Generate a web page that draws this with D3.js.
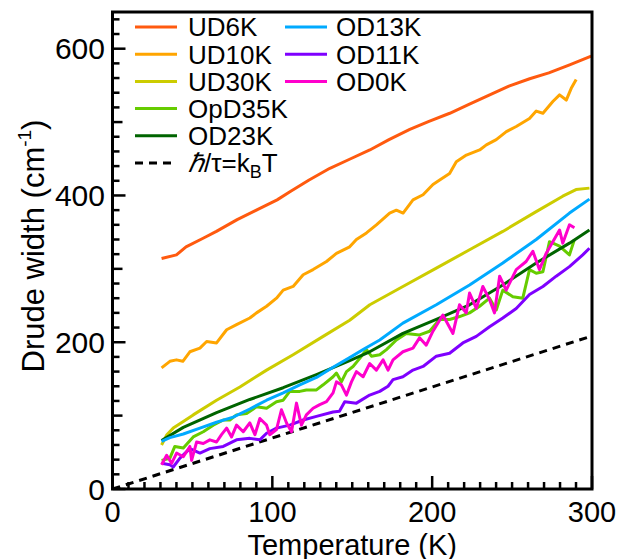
<!DOCTYPE html>
<html><head><meta charset="utf-8">
<script src="https://cdn.jsdelivr.net/npm/d3@7"></script>
<style>body{margin:0;background:#fff}svg{display:block}text{font-family:"Liberation Sans",Arial,Helvetica,sans-serif;fill:#000}</style>
</head><body>
<svg id="c" width="623" height="559"></svg>
<script>
const seriesNames = ["UD6K","UD10K","UD30K","OpD35K","OD23K","OD13K","OD11K","OD0K"];
const seriesColors = ["#ff5a0f","#ffa500","#cccc00","#66cc00","#006400","#00aaff","#7f00ff","#ff00cc"];
const xTickLabels = [0,100,200,300];
const yTickLabels = [0,200,400,600];

const UD6K = [[30.7,314],[40,319],[46,330],[57,342],[65,351],[78,367],[90,380],[103,394],[111,405],[123,421],[136,437],[148,449],[161,462],[173,476],[186,490],[198,501],[211,512],[223,524],[236,537],[248,549],[261,559],[273,567],[286,578],[299.5,590]];
const UD10K = [[30.7,165],[35.9,174],[40,176],[44,174],[48.4,187],[54.7,192],[58.9,201],[65.1,199],[71.4,217],[77.6,224],[85.9,233],[90.1,240],[96.4,249],[102.6,260],[106.8,271],[113,276],[119.3,292],[125.5,299],[133.9,310],[140.1,321],[148.4,330],[152.6,340],[158.9,349],[165.1,360],[173.4,376],[177.6,380],[181.8,376],[188,394],[194.3,401],[200.5,415],[204.7,421],[210.9,430],[215.1,446],[221.4,455],[229.7,462],[233.9,469],[240.1,476],[246.4,487],[252.6,494],[260.9,505],[265.1,515],[269.3,512],[275.5,528],[279.7,537],[283.9,530],[287,546],[290.1,558]];
const UD30K = [[30.7,60],[34,74],[38,83],[44.3,92],[50.5,101],[65.1,121],[79.7,139],[96.4,162],[113,183],[131.8,208],[148.4,230],[161,251],[181.7,276],[202.6,301],[223.4,326],[244.2,351],[265.1,378],[281.7,399],[290,408],[298.4,410]];
const OpD35K = [[30.7,39],[35.9,42],[39,58],[44.3,56],[50.5,71],[56.8,78],[63,87],[69.3,94],[73.4,94],[77.6,101],[83.9,103],[90.1,112],[96.4,110],[102.6,119],[106.8,121],[110.9,133],[117.2,133],[121.3,135],[127.6,135],[131.8,142],[138,153],[140.1,158],[143.2,146],[146.4,160],[150.5,167],[154.7,178],[158.9,190],[162,181],[167.2,183],[171.4,190],[177.6,203],[183.8,212],[192.1,210],[198.4,215],[204.6,231],[210.9,231],[217.2,235],[223.4,240],[229.7,249],[235.9,260],[240.1,244],[244.2,271],[250.5,262],[256.7,260],[260.9,299],[265.1,294],[269.3,296],[273.4,337],[279.7,331],[285.9,319],[289,340]];
const OD23K = [[30.7,66],[44.3,84],[65.1,104],[85.9,122],[106.8,138],[127.6,156],[148.4,175],[160.9,187],[181.7,212],[202.6,231],[223.4,251],[244.2,278],[265.1,308],[285.9,335],[298.4,353]];
const OD13K = [[30.7,65],[35.9,70],[44.3,75],[54.7,83],[65.1,91],[75.5,98],[85.9,109],[96.4,121],[106.8,131],[117.2,142],[127.6,152],[138,166],[148.4,179],[156.8,190],[167.2,203],[181.7,226],[202.6,251],[223.4,278],[244.2,308],[265.1,340],[285.9,376],[298.4,395]];
const OD11K = [[30.7,35],[35.9,33],[38,30],[42.2,42],[48.4,55],[54.7,49],[60.9,55],[69.3,58],[77.6,67],[85.9,69],[92.2,67],[96.4,76],[102.6,83],[110.9,87],[119.3,94],[127.6,99],[138,105],[142,106],[145.3,119],[152.6,117],[160.9,128],[167.2,133],[172.4,140],[175.5,149],[181.7,153],[188,162],[194.3,167],[202.6,181],[210.9,185],[219.2,199],[227.6,208],[235.9,221],[244.2,233],[252.6,246],[260.9,265],[269.3,276],[277.6,290],[285.9,303],[294.2,319],[298.4,328]];
const OD0K = [[30.7,33],[33.9,46],[37,35],[40.1,49],[44.3,44],[48.4,58],[49.5,39],[52.6,64],[56.8,62],[60.9,67],[65.1,64],[68.2,74],[71.4,83],[74.5,71],[77.6,87],[81.8,78],[85.9,90],[89.1,74],[92.2,96],[96.4,87],[98.4,74],[102.6,81],[105.7,108],[108.9,90],[112,78],[115.1,117],[118.2,87],[121.3,101],[125.5,110],[129.7,115],[133.9,119],[138,131],[140.1,146],[143.2,142],[146.4,128],[149.5,146],[152.6,160],[156.8,153],[160.9,171],[165.1,162],[169.3,176],[172.4,162],[175.5,176],[181.7,187],[188,192],[192.1,206],[196.3,196],[200.5,215],[206.7,237],[213,212],[217.1,251],[221.3,240],[223.4,267],[227.6,246],[231.7,276],[235.9,258],[239,240],[242.2,290],[246.3,271],[252.6,299],[258.8,310],[263,324],[267.1,299],[271.3,321],[275.5,337],[279.7,353],[281.7,335],[285.9,360],[289,356]];
const kBT = [[0,0],[300,208.5]];
const seriesData = [UD6K,UD10K,UD30K,OpD35K,OD23K,OD13K,OD11K,OD0K];

const svg = d3.select("#c");
const x = d3.scaleLinear().domain([0,300]).range([112.5,592]);
const y = d3.scaleLinear().domain([0,650]).range([489,12]);

const line = d3.line().x(d=>x(d[0])).y(d=>y(d[1]));
svg.append("clipPath").attr("id","cp").append("rect")
  .attr("x",x(0)).attr("y",y(650)).attr("width",x(300)-x(0)).attr("height",y(0)-y(650));
const plot = svg.append("g").attr("clip-path","url(#cp)");

plot.append("path").datum(kBT).attr("d",line).attr("fill","none")
  .attr("stroke","#000").attr("stroke-width",3).attr("stroke-dasharray","8,6");
seriesData.forEach((s,i)=>{
  plot.append("path").datum(s).attr("d",line).attr("fill","none")
    .attr("stroke",seriesColors[i]).attr("stroke-width",3).attr("stroke-linejoin","round");
});

// ticks (inward)
const yt = d3.range(0,651,20);
svg.append("g").selectAll("line").data(yt).join("line")
  .attr("x1",x(0)).attr("x2",d=> x(0) + (d%200===0?13:(d%100===0?10:7)))
  .attr("y1",d=>y(d)).attr("y2",d=>y(d)).attr("stroke","#000").attr("stroke-width",2.5);
const xt = d3.range(0,301,10);
svg.append("g").selectAll("line").data(xt).join("line")
  .attr("y1",y(0)).attr("y2",d=> y(0) - (d%100===0?13:7))
  .attr("x1",d=>x(d)).attr("x2",d=>x(d)).attr("stroke","#000").attr("stroke-width",2.5);

// frame
svg.append("rect").attr("x",x(0)).attr("y",y(650)).attr("width",x(300)-x(0)).attr("height",y(0)-y(650))
  .attr("fill","none").attr("stroke","#000").attr("stroke-width",3);

// tick labels
svg.append("g").selectAll("text").data(yTickLabels).join("text")
  .attr("x",105).attr("y",d=>y(d)).attr("dy","0.36em").attr("text-anchor","end")
  .attr("font-size",30).text(d=>d);
svg.append("g").selectAll("text").data(xTickLabels).join("text")
  .attr("x",d=>x(d)).attr("y",522).attr("text-anchor","middle")
  .attr("font-size",29).text(d=>d);

// axis titles
svg.append("text").attr("x",(x(0)+x(300))/2).attr("y",554.5).attr("text-anchor","middle")
  .attr("font-size",29).text("Temperature (K)");
const yl = svg.append("text").attr("transform","translate(44,246) rotate(-90)")
  .attr("text-anchor","middle").attr("font-size",31);
yl.append("tspan").text("Drude width (cm");
yl.append("tspan").attr("font-size",19).attr("dy",-13).text("-1");
yl.append("tspan").attr("dy",13).text(")");

// legend
const leg = svg.append("g");
const rowY = i => 27 + i*27.2;
const legItems = seriesNames.map((n,i)=>({n,c:seriesColors[i],col:i<5?0:1,row:i<5?i:i-5}));
legItems.forEach(it=>{
  const lx = it.col===0?135:285, tx = it.col===0?188:336;
  leg.append("line").attr("x1",lx).attr("x2",lx+42).attr("y1",rowY(it.row)).attr("y2",rowY(it.row))
    .attr("stroke",it.c).attr("stroke-width",3);
  leg.append("text").attr("x",tx).attr("y",rowY(it.row)).attr("dy","0.36em").attr("font-size",26).text(it.n);
});
leg.append("line").attr("x1",135).attr("x2",177).attr("y1",rowY(5)).attr("y2",rowY(5))
  .attr("stroke","#000").attr("stroke-width",3).attr("stroke-dasharray","8,6");
const kt = leg.append("text").attr("x",188).attr("y",rowY(5)).attr("dy","0.36em").attr("font-size",26);
kt.append("tspan").attr("font-style","italic").text("ℏ");
kt.append("tspan").text("/τ=k");
kt.append("tspan").attr("font-size",18).attr("dy",6).text("B");
kt.append("tspan").attr("dy",-6).text("T");
</script>
</body></html>
